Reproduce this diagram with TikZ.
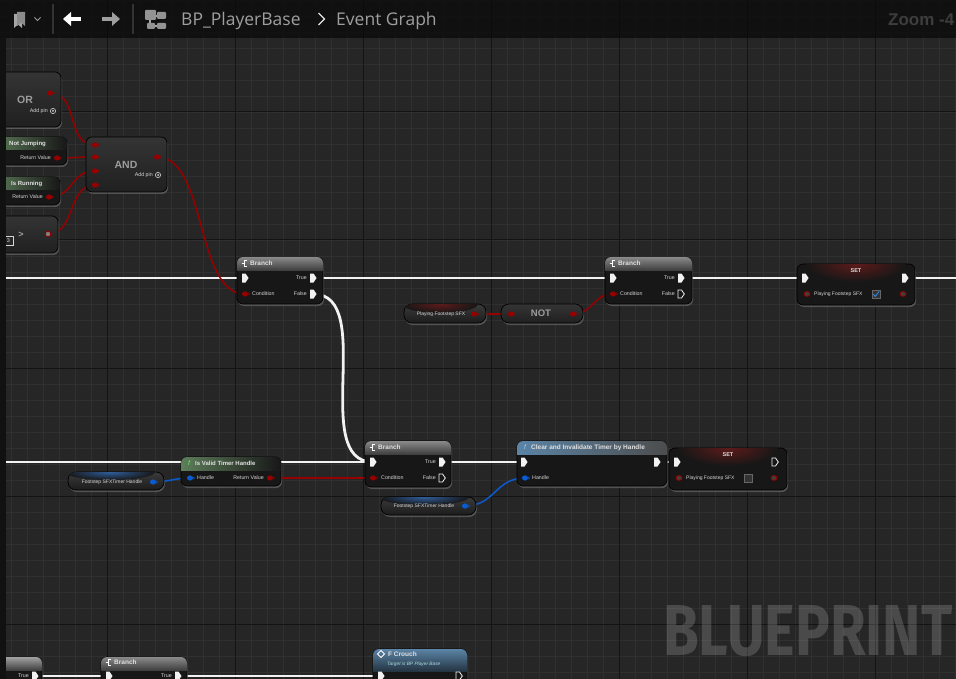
\documentclass[tikz,border=0pt]{standalone}
\usepackage{fontspec}
\usepackage{graphicx}
\setmainfont{Liberation Sans}
\newfontfamily\uifont{Open Sans}
\newfontfamily\wmfont{Fira Sans}
\usetikzlibrary{calc,shadows}
\definecolor{bg}{HTML}{262626}
\definecolor{gminor}{HTML}{303030}
\definecolor{gmajor}{HTML}{141414}
\definecolor{barc}{HTML}{0A0A0A}
\definecolor{body}{HTML}{171717}
\definecolor{opTop}{HTML}{343434}
\definecolor{opBot}{HTML}{202020}
\definecolor{boolc}{HTML}{980000}
\definecolor{structc}{HTML}{0A5BD0}
\definecolor{execc}{HTML}{F2F2F2}
\definecolor{lbl}{HTML}{D6D6D6}
\definecolor{optxt}{HTML}{9C9C9C}
\definecolor{hgray}{HTML}{8A8A8A}
\definecolor{hgreen}{HTML}{5E7E5A}
\definecolor{hblue}{HTML}{5B84A6}
\definecolor{redglow}{HTML}{5E1A1A}
\definecolor{blueglow}{HTML}{2F5E9C}
\definecolor{pillTop}{HTML}{3A3A3A}
\definecolor{pillBot}{HTML}{1C1C1C}
\definecolor{checkc}{HTML}{2E86E6}
\newcommand\bx[6][]{\node[#1, minimum width={#5-(#3)}, minimum height={#6-(#4)}] (#2) at ({(#3+#5)/2},{(#4+#6)/2}) {};}
\newcommand\hdrbar[6]{\begin{scope}\clip[rounded corners=6pt] (#1,#2) rectangle (#3,#4); \path[#6] (#1,#2) rectangle (#3,#5);\end{scope}}
\newcommand\bez[4]{\draw[#1] (#2) .. controls ($(#2)+(#4,0)$) and ($(#3)-(#4,0)$) .. (#3);}
\newcommand\glow[5]{\begin{scope}\clip[rounded corners=7pt] (#1) rectangle (#2); \shade[inner color=#5, outer color=body] (#3) ellipse (#4);\end{scope}}
\tikzset{
 k2/.style={draw=black, line width=0.7pt, fill=body, rounded corners=6pt, inner sep=0pt, outer sep=0pt,
   drop shadow={opacity=0.5,shadow xshift=1pt,shadow yshift=-2pt}},
 opbox/.style={k2, top color=opTop, bottom color=opBot},
 pill/.style={k2, rounded corners=8pt, top color=pillTop, bottom color=pillBot},
 pl/.style={font=\fontsize{5.3}{6}\selectfont, text=lbl, inner sep=0pt},
 ttl/.style={font=\bfseries\fontsize{6.5}{7}\selectfont, text=white!88!black, inner sep=0pt},
 opt/.style={font=\bfseries\fontsize{10.5}{11}\selectfont, text=optxt, inner sep=0pt},
 execw/.style={draw=execc, line width=2.8pt},
 boolw/.style={draw=boolc, line width=1.5pt},
 structw/.style={draw=structc, line width=1.5pt},
 pics/ex/.style={code={\fill[execc] (-3,-4.5) -- (0.5,-4.5) -- (3.5,0) -- (0.5,4.5) -- (-3,4.5) -- cycle;}},
 pics/exo/.style={code={\draw[execc,line width=0.8pt,fill=body] (-3,-4) -- (0.5,-4) -- (3.3,0) -- (0.5,4) -- (-3,4) -- cycle;}},
 pics/dp/.style={code={\fill[#1] (0,0) ellipse (3 and 2.6); \fill[#1] (3.3,-1.5) -- (4.8,0) -- (3.3,1.5) -- cycle;}},
 pics/dpo/.style={code={\draw[#1,line width=0.9pt,fill=black!75] (0,0) ellipse (3 and 2.4);}},
 pics/addpin/.style={code={\draw[lbl,line width=0.6pt] (0,0) circle (2.6); \fill[lbl] (0,0) circle (1);}},
}
\begin{document}
\begin{tikzpicture}[x=1pt,y=-1pt]
\useasboundingbox (0,0) rectangle (956,679);
\fill[bg] (0,0) rectangle (956,679);
% grid
\foreach \x in {11,27,...,955} \draw[gminor,line width=0.8pt] (\x,0) -- (\x,679);
\foreach \y in {0,16,...,679} \draw[gminor,line width=0.8pt] (0,\y) -- (956,\y);
\foreach \x in {107,235,...,955} \draw[gmajor,line width=1pt] (\x,0) -- (\x,679);
\foreach \y in {112,240,...,679} \draw[gmajor,line width=1pt] (0,\y) -- (956,\y);
% pin coordinates
\coordinate (orO) at (50,93);
\coordinate (njO) at (57,158);
\coordinate (irO) at (49,197);
\coordinate (gtO) at (48,234);
\coordinate (andI1) at (95,145); \coordinate (andI2) at (95,157);
\coordinate (andI3) at (95,171); \coordinate (andI4) at (95,185);
\coordinate (andO) at (157,157);
\coordinate (b1I) at (245,278); \coordinate (b1T) at (313,278);
\coordinate (b1C) at (245,294); \coordinate (b1F) at (313,294);
\coordinate (b2I) at (613,278); \coordinate (b2T) at (681,278);
\coordinate (b2C) at (613,294); \coordinate (b2F) at (681,294);
\coordinate (pgO) at (474,314);
\coordinate (notI) at (511,314); \coordinate (notO) at (573,314);
\coordinate (s1I) at (805,278); \coordinate (s1O) at (905,278);
\coordinate (s1V) at (807,294); \coordinate (s1VO) at (903,294);
\coordinate (ivH) at (190,478); \coordinate (ivR) at (270,478);
\coordinate (g1O) at (153,482);
\coordinate (b3I) at (373,462); \coordinate (b3T) at (442,462);
\coordinate (b3C) at (373,478); \coordinate (b3F) at (442,478);
\coordinate (clI) at (524,462); \coordinate (clO) at (657,462);
\coordinate (clH) at (525,478);
\coordinate (g2O) at (465,506);
\coordinate (s2I) at (677,462); \coordinate (s2O) at (775,462);
\coordinate (s2V) at (679,478); \coordinate (s2VO) at (774,478);
\coordinate (aT) at (35,676);
\coordinate (b4I) at (109,676); \coordinate (b4T) at (178,676);
\coordinate (fcI) at (381,676); \coordinate (fcO) at (459,676);
\coordinate (edgeA) at (-5,278); \coordinate (edgeB) at (-5,462);
\coordinate (edgeR) at (965,278);
% wires
\draw[execw] (edgeA) -- (b1I);
\draw[execw] (b1T) -- (b2I);
\draw[execw] (b2T) -- (s1I);
\draw[execw] (s1O) -- (edgeR);
\bez{execw}{b1F}{b3I}{64}
\draw[execw] (edgeB) -- (b3I);
\draw[execw] (b3T) -- (clI);
\draw[execw] (clO) -- (s2I);
\draw[execw] (aT) -- (b4I);
\draw[execw] (b4T) -- (fcI);
\bez{boolw}{orO}{andI1}{30}
\bez{boolw}{njO}{andI2}{15}
\bez{boolw}{irO}{andI3}{25}
\bez{boolw}{gtO}{andI4}{28}
\bez{boolw}{andO}{b1C}{50}
\bez{boolw}{pgO}{notI}{15}
\bez{boolw}{notO}{b2C}{20}
\bez{boolw}{ivR}{b3C}{30}
\bez{structw}{g1O}{ivH}{15}
\bez{structw}{g2O}{clH}{30}
% ---------- nodes ----------
% OR
\bx[opbox]{orN}{-10}{72}{61}{127}
\node[opt] (orT) at (25,100) {OR};
\node[pl,anchor=east] (orAdd) at (48,111) {Add pin};
\pic at (53,111) {addpin};
% Not Jumping
\bx[k2]{njN}{-10}{137}{67}{165}
\hdrbar{-10}{137}{67}{165}{150}{left color=hgreen, right color=body}
\node[ttl,anchor=west,font=\bfseries\fontsize{6}{7}\selectfont] (njT) at (9,143.5) {Not Jumping};
\node[pl,anchor=east] (njL) at (51,158) {Return Value};
% Is Running
\bx[k2]{irN}{-10}{177}{60}{205}
\hdrbar{-10}{177}{60}{205}{190}{left color=hgreen, right color=body}
\node[ttl,anchor=west,font=\bfseries\fontsize{6}{7}\selectfont] (irT) at (11,183.5) {Is Running};
\node[pl,anchor=east] (irL) at (43,197) {Return Value};
% Greater
\bx[opbox]{gtN}{-10}{216}{58}{253}
\node[opt,font=\bfseries\fontsize{9}{10}\selectfont] (gtT) at (21,235) {>};
\node[draw=lbl,line width=0.5pt,minimum width=9pt,minimum height=9pt,inner sep=0pt,font=\fontsize{5.5}{6}\selectfont,text=lbl] (gtV) at (8.5,241) {3};
% AND
\bx[opbox]{andN}{86}{137}{167}{192}
\node[opt] (andT) at (126,165) {AND};
\node[pl,anchor=east] (andAdd) at (153,175) {Add pin};
\pic at (158,175) {addpin};
% Branch 1
\bx[k2]{b1N}{237}{257}{323}{304}
\hdrbar{237}{257}{323}{304}{270}{top color=hgray, bottom color=black!75}
\draw[white,line width=0.8pt] (247,260.5) -- (244,260.5) -- (244,266.5) -- (247,266.5); \draw[white,line width=0.8pt] (241.5,263.5) -- (244,263.5);
\node[ttl,anchor=west] (b1Tt) at (250,263.5) {Branch};
\node[pl,anchor=east] (b1Tl) at (307,278) {True};
\node[pl,anchor=west] (b1Cl) at (252,294) {Condition};
\node[pl,anchor=east] (b1Fl) at (307,294) {False};
% Branch 2
\bx[k2]{b2N}{605}{257}{692}{304}
\hdrbar{605}{257}{692}{304}{270}{top color=hgray, bottom color=black!75}
\draw[white,line width=0.8pt] (615,260.5) -- (612,260.5) -- (612,266.5) -- (615,266.5); \draw[white,line width=0.8pt] (609.5,263.5) -- (612,263.5);
\node[ttl,anchor=west] (b2Tt) at (618,263.5) {Branch};
\node[pl,anchor=east] (b2Tl) at (675,278) {True};
\node[pl,anchor=west] (b2Cl) at (620,294) {Condition};
\node[pl,anchor=east] (b2Fl) at (675,294) {False};
% Playing Footstep SFX getter
\bx[pill]{pgN}{404}{304}{486}{323}
\glow{404,304}{486,323}{440,304}{38 and 9}{redglow}
\node[pl,font=\fontsize{5}{6}\selectfont] (pgT) at (441,314) {Playing Footstep SFX};
% NOT
\bx[opbox,rounded corners=8pt]{notN}{501}{304}{583}{323}
\node[opt,font=\bfseries\fontsize{9.5}{10}\selectfont] (notT) at (541,313.5) {NOT};
% SET 1
\bx[k2]{s1N}{797}{264}{915}{305}
\glow{797,264}{915,305}{856,264}{50 and 18}{redglow}
\node[ttl,font=\bfseries\fontsize{5.5}{6}\selectfont] (s1T) at (856,271) {SET};
\node[pl,anchor=west,font=\fontsize{5}{6}\selectfont] (s1L) at (814,294.5) {Playing Footstep SFX};
\node[draw=black!60,fill=black!80,minimum size=8pt,inner sep=0pt] (s1Box) at (876,294) {};
\draw[checkc,line width=0.9pt] (873,294) -- (875.3,296.5) -- (879,291.5);
% Is Valid Timer Handle
\bx[k2]{ivN}{181}{457}{281}{486}
\hdrbar{181}{457}{281}{486}{470}{left color=hgreen, right color=body}
\node[ttl,anchor=west,font=\itshape\fontsize{6.5}{7}\selectfont,text=green!60!white] (ivF) at (188,463.5) {f};
\node[ttl,anchor=west,font=\bfseries\fontsize{6}{7}\selectfont] (ivT) at (195,463.5) {Is Valid Timer Handle};
\node[pl,anchor=west] (ivHl) at (197,478) {Handle};
\node[pl,anchor=east] (ivRl) at (264,478) {Return Value};
% Footstep SFXTimer Handle getter 1
\bx[pill]{g1N}{68}{472}{164}{490}
\glow{68,472}{164,490}{110,472}{45 and 8}{blueglow}
\node[pl,font=\fontsize{5}{6}\selectfont] (g1T) at (112,482) {Footstep SFXTimer Handle};
% Branch 3
\bx[k2]{b3N}{365}{441}{451}{487}
\hdrbar{365}{441}{451}{487}{454}{top color=hgray, bottom color=black!75}
\draw[white,line width=0.8pt] (375,444.5) -- (372,444.5) -- (372,450.5) -- (375,450.5); \draw[white,line width=0.8pt] (369.5,447.5) -- (372,447.5);
\node[ttl,anchor=west] (b3Tt) at (378,447.5) {Branch};
\node[pl,anchor=east] (b3Tl) at (436,462) {True};
\node[pl,anchor=west] (b3Cl) at (381,478) {Condition};
\node[pl,anchor=east] (b3Fl) at (436,478) {False};
% Clear and Invalidate Timer by Handle
\bx[k2]{clN}{517}{441}{667}{486}
\hdrbar{517}{441}{667}{486}{454}{left color=hblue, right color=black!70}
\node[ttl,anchor=west,font=\itshape\fontsize{6.5}{7}\selectfont,text=cyan!40!white] (clF) at (524,447.5) {f};
\node[ttl,anchor=west] (clT) at (531,447.5) {Clear and Invalidate Timer by Handle};
\node[pl,anchor=west] (clHl) at (532,478) {Handle};
% Footstep SFXTimer Handle getter 2
\bx[pill]{g2N}{381}{497}{476}{515}
\glow{381,497}{476,515}{424,497}{45 and 8}{blueglow}
\node[pl,font=\fontsize{5}{6}\selectfont] (g2T) at (424,506) {Footstep SFXTimer Handle};
% SET 2
\bx[k2]{s2N}{669}{448}{787}{490}
\glow{669,448}{787,490}{728,448}{50 and 18}{redglow}
\node[ttl,font=\bfseries\fontsize{5.5}{6}\selectfont] (s2T) at (728,455) {SET};
\node[pl,anchor=west,font=\fontsize{5}{6}\selectfont] (s2L) at (686,478.5) {Playing Footstep SFX};
\node[draw=black!60,fill=black!80,minimum size=8pt,inner sep=0pt] (s2Box) at (748,478.5) {};
% bottom nodes
\bx[k2]{aN}{-10}{657}{42}{700}
\hdrbar{-10}{657}{42}{700}{670}{top color=hgray!80, bottom color=black!75}
\node[pl,anchor=east] (aTl) at (29,676) {True};
\bx[k2]{b4N}{101}{657}{187}{700}
\hdrbar{101}{657}{187}{700}{670}{top color=hgray, bottom color=black!75}
\draw[white,line width=0.8pt] (111,659.5) -- (108,659.5) -- (108,665.5) -- (111,665.5); \draw[white,line width=0.8pt] (105.5,662.5) -- (108,662.5);
\node[ttl,anchor=west] (b4Tt) at (114,662.5) {Branch};
\node[pl,anchor=east] (b4Tl) at (172,676) {True};
\bx[k2]{fcN}{373}{649}{467}{700}
\hdrbar{373}{649}{467}{700}{671}{top color=hblue, bottom color=hblue!40!black}
\draw[white,line width=0.8pt] (381,650.5) -- (384.5,654) -- (381,657.5) -- (377.5,654) -- cycle;
\node[ttl,anchor=west] (fcT) at (388,654) {F Crouch};
\node[pl,anchor=west,font=\itshape\fontsize{4.8}{5}\selectfont,text=lbl!80!cyan] (fcS) at (387,664.5) {Target is BP Player Base};
% ---------- pins ----------
\pic at (b1I) {ex}; \pic at (b1T) {ex}; \pic at (b1F) {ex}; \pic at (b1C) {dp=boolc};
\pic at (b2I) {ex}; \pic at (b2T) {ex}; \pic at (b2F) {exo}; \pic at (b2C) {dp=boolc};
\pic at (b3I) {ex}; \pic at (b3T) {ex}; \pic at (b3F) {exo}; \pic at (b3C) {dp=boolc};
\pic at (s1I) {ex}; \pic at (s1O) {ex}; \pic at (s1V) {dpo=boolc}; \pic at (s1VO) {dpo=boolc};
\pic at (s2I) {ex}; \pic at (s2O) {exo}; \pic at (s2V) {dpo=boolc}; \pic at (s2VO) {dpo=boolc};
\pic at (clI) {ex}; \pic at (clO) {ex}; \pic at (clH) {dp=structc};
\pic at (ivH) {dp=structc}; \pic at (ivR) {dp=boolc};
\pic at (g1O) {dp=structc}; \pic at (g2O) {dp=structc};
\pic at (pgO) {dp=boolc}; \pic at (notI) {dp=boolc}; \pic at (notO) {dp=boolc};
\pic at (orO) {dp=boolc}; \pic at (njO) {dp=boolc}; \pic at (irO) {dp=boolc};
\fill[black!50] (gtO) circle (2.6); \draw[boolc,line width=0.9pt] (gtO) circle (2.8);
\pic at (andI1) {dp=boolc}; \pic at (andI2) {dp=boolc}; \pic at (andI3) {dp=boolc}; \pic at (andI4) {dp=boolc};
\pic at (andO) {dp=boolc};
\pic at (aT) {ex}; \pic at (b4I) {ex}; \pic at (b4T) {ex}; \pic at (fcI) {ex}; \pic at (fcO) {exo};
% left dark strip
\fill[black!55!bg] (0,38) rectangle (6,679);
% watermark
\node[anchor=south west,inner sep=0pt,text=white,text opacity=0.17] (wm) at (663,657) {\resizebox{289pt}{50pt}{\wmfont\bfseries BLUEPRINT}};
% top bar
\fill[barc,opacity=0.78] (0,0) rectangle (956,38);
\fill[gray!70] (14,14) -- (22,14) -- (22,28) -- (18,24.5) -- (14,28) -- cycle;
\fill[gray!90!white] (17,12) -- (25,12) -- (25,26) -- (21,22.5) -- (17,26) -- cycle;
\draw[gray!80,line width=1pt] (34.5,17.5) -- (37.5,20.5) -- (40.5,17.5);
\draw[black!80,line width=1.4pt] (53,4) -- (53,34);
\fill[white] (63,19) -- (71,12) -- (71,26) -- cycle; \draw[white,line width=3.6pt] (70,19) -- (81,19);
\fill[gray!75] (120,19) -- (112,12) -- (112,26) -- cycle; \draw[gray!75,line width=3.6pt] (102,19) -- (113,19);
\draw[black!80,line width=1.4pt] (133,4) -- (133,34);
\draw[gray!70,line width=1.2pt] (150,16) -- (161,16); \draw[gray!70,line width=1.2pt] (150,16) -- (150,26) -- (161,26);
\fill[gray!85,rounded corners=1pt] (145,10) rectangle (156,20);
\fill[gray!85,rounded corners=1pt] (157,12) rectangle (166,19);
\fill[gray!85,rounded corners=1pt] (147,23) rectangle (155,29);
\fill[gray!85,rounded corners=1pt] (157,23) rectangle (166,29);
\node[anchor=base west,inner sep=0pt,text=gray!75!white,font=\uifont\fontsize{17.5}{18}\selectfont] (crumb1) at (181,25.5) {BP\_PlayerBase};
\draw[white!90!black,line width=1.2pt] (318.5,13) -- (324.5,19) -- (318.5,25);
\node[anchor=base west,inner sep=0pt,text=gray!75!white,font=\uifont\fontsize{17.5}{18}\selectfont] (crumb2) at (336,25.5) {Event Graph};
\node[anchor=base west,inner sep=0pt,text=white!24!black,font=\bfseries\fontsize{17}{18}\selectfont] (zoomT) at (888,25.5) {Zoom -4};
\end{tikzpicture}
\end{document}
